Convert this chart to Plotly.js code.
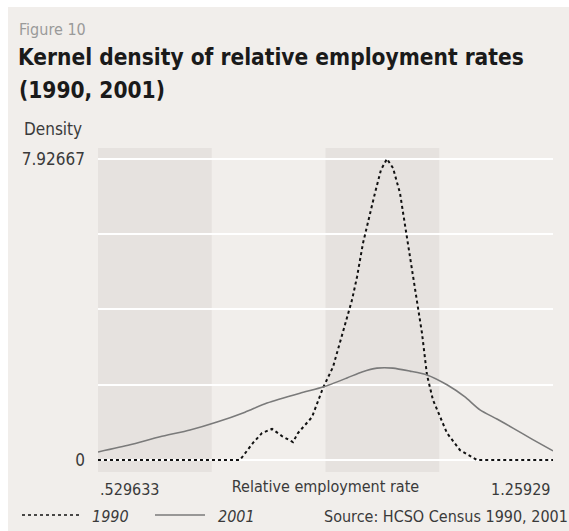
<!DOCTYPE html>
<html>
<head>
<meta charset="utf-8">
<script src="https://cdn.plot.ly/plotly-3.0.1.min.js"></script>
<style>
html,body{margin:0;padding:0;background:#ffffff;}
#chart{position:absolute;left:8px;top:7px;width:561px;height:524px;}
</style>
</head>
<body>
<div id="chart"></div>
<script>
// ---- data ----
const xMin = 0.529633;
const xMax = 1.25929;
const yMax = 7.92667;

const x1990 = [0.5296, 0.7573, 0.7782, 0.7926, 0.8087, 0.8247, 0.8423, 0.8503, 0.8728, 0.8905, 0.9065, 0.9225, 0.9369, 0.9450, 0.9546, 0.9738, 0.9834, 0.9930, 1.0027, 1.0139, 1.0267, 1.0347, 1.0411, 1.0492, 1.0572, 1.0668, 1.0893, 1.1101, 1.1294, 1.1374, 1.2593];
const d1990 = [0, 0, 0.45, 0.71, 0.82, 0.63, 0.47, 0.71, 1.13, 1.90, 2.45, 3.34, 4.21, 4.82, 5.71, 7.03, 7.64, 7.93, 7.69, 7.03, 5.71, 4.82, 4.21, 3.34, 2.24, 1.58, 0.71, 0.26, 0.08, 0, 0];

const x2001 = [0.5296, 0.5810, 0.6291, 0.6772, 0.7205, 0.7654, 0.8006, 0.8536, 0.8905, 0.9289, 0.9530, 0.9770, 1.0027, 1.0299, 1.0572, 1.0893, 1.1181, 1.1422, 1.1694, 1.1951, 1.2255, 1.2593];
const d2001 = [0.21, 0.40, 0.61, 0.79, 1.00, 1.26, 1.50, 1.76, 1.92, 2.16, 2.32, 2.42, 2.42, 2.34, 2.24, 1.98, 1.66, 1.32, 1.08, 0.84, 0.55, 0.24];

const yTickVals = [0, yMax / 4, yMax / 2, 3 * yMax / 4, yMax];
const yTickText = ['0', '', '', '', '7.92667'];
const xTickVals = [xMin, xMax];
const xTickText = ['.529633', '1.25929'];
const seriesNames = ['1990', '2001'];

// ---- helpers: page pixel -> paper coords ----
const PL = 98, PR = 553, PT = 148, PB = 472;
const px = v => (v - PL) / (PR - PL);
const py = v => (PB - v) / (PB - PT);

const FONT = '"DejaVu Sans Condensed", "Liberation Sans", Arial, sans-serif';
const BG = '#f1eeeb';
const BAND = '#e6e2df';

const traces = [
  {x: x1990, y: d1990, type: 'scatter', mode: 'lines', name: seriesNames[0], line: {color: '#111111', width: 2, dash: 'dot'}, hoverinfo: 'skip'},
  {x: x2001, y: d2001, type: 'scatter', mode: 'lines', name: seriesNames[1], line: {color: '#7a7a7a', width: 1.6, shape: 'spline', smoothing: 0.6}, hoverinfo: 'skip'}
];

const q = (xMax - xMin) / 4;
const shapes = [
  {type: 'rect', xref: 'x', yref: 'paper', x0: xMin, x1: xMin + q, y0: 0, y1: 1, fillcolor: BAND, line: {width: 0}, layer: 'below'},
  {type: 'rect', xref: 'x', yref: 'paper', x0: xMin + 2 * q, x1: xMin + 3 * q, y0: 0, y1: 1, fillcolor: BAND, line: {width: 0}, layer: 'below'},
  // legend samples
  {type: 'line', xref: 'paper', yref: 'paper', x0: px(22), x1: px(80), y0: py(515), y1: py(515), line: {color: '#111', width: 1.6, dash: 'dot'}},
  {type: 'line', xref: 'paper', yref: 'paper', x0: px(155), x1: px(205), y0: py(515), y1: py(515), line: {color: '#7a7a7a', width: 1.4}}
];

const txt = '#3a3a3a';
const LS = 16;
const annotations = [
  {text: 'Figure 10', xref: 'paper', yref: 'paper', x: px(17), y: py(30), xanchor: 'left', yanchor: 'middle', showarrow: false, font: {family: FONT, size: 16, color: '#9a9a9a'}},
  {text: '<b>(1990, 2001)</b>', xref: 'paper', yref: 'paper', x: px(17), y: py(90), xanchor: 'left', yanchor: 'middle', showarrow: false, font: {family: FONT, size: 22.5, color: '#1a1a1a'}},
  {text: 'Density', xref: 'paper', yref: 'paper', x: px(84), y: py(129), xanchor: 'right', yanchor: 'middle', showarrow: false, font: {family: FONT, size: 17, color: txt}},
  {text: xTickText[0], xref: 'x', yref: 'paper', x: xTickVals[0], y: py(489), xanchor: 'left', yanchor: 'middle', showarrow: false, font: {family: FONT, size: LS, color: txt}},
  {text: xTickText[1], xref: 'x', yref: 'paper', x: xTickVals[1], y: py(489), xanchor: 'right', yanchor: 'middle', showarrow: false, font: {family: FONT, size: LS, color: txt}},
  {text: '<i>' + seriesNames[0] + '</i>', xref: 'paper', yref: 'paper', x: px(90), y: py(516), xanchor: 'left', yanchor: 'middle', showarrow: false, font: {family: FONT, size: LS, color: txt}},
  {text: '<i>' + seriesNames[1] + '</i>', xref: 'paper', yref: 'paper', x: px(216), y: py(516), xanchor: 'left', yanchor: 'middle', showarrow: false, font: {family: FONT, size: LS, color: txt}},
  {text: 'Source: HCSO Census 1990, 2001', xref: 'paper', yref: 'paper', x: px(322), y: py(516), xanchor: 'left', yanchor: 'middle', showarrow: false, font: {family: FONT, size: LS, color: txt}}
];

const layout = {
  width: 561, height: 524,
  margin: {l: 90, r: 16, t: 141, b: 59, pad: 0},
  paper_bgcolor: BG, plot_bgcolor: BG,
  showlegend: false,
  title: {
    text: '<b>Kernel density of relative employment rates</b>',
    font: {family: FONT, size: 22.5, color: '#1a1a1a'},
    xref: 'container', yref: 'container', x: 10 / 561, y: 1 - 50 / 524,
    xanchor: 'left', yanchor: 'middle'
  },
  xaxis: {
    range: [xMin, xMax], showgrid: false, zeroline: false, showline: false,
    tickvals: xTickVals, ticktext: xTickText, showticklabels: false, ticks: '',
    title: {text: 'Relative employment rate', font: {family: FONT, size: LS, color: txt}, standoff: 8}
  },
  yaxis: {
    range: [-0.316, 8.216], tickvals: yTickVals, ticktext: yTickText,
    showgrid: true, gridcolor: '#ffffff', gridwidth: 2, zeroline: false, showline: false,
    ticks: '', ticklabelstandoff: 12,
    tickfont: {family: FONT, size: 17, color: txt}
  },
  shapes: shapes,
  annotations: annotations
};

Plotly.newPlot('chart', traces, layout, {displayModeBar: false, staticPlot: true});
</script>
</body>
</html>
